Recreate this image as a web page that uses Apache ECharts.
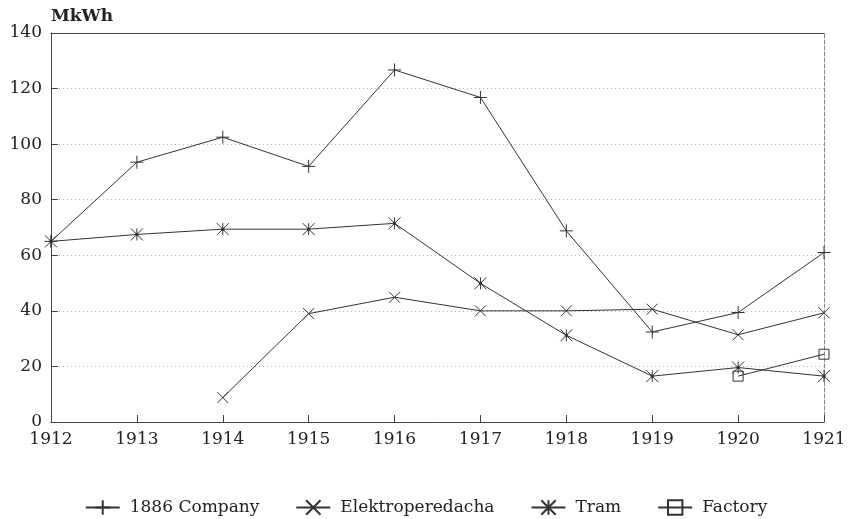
<!DOCTYPE html>
<html>
<head>
<meta charset="utf-8">
<script src="https://cdn.jsdelivr.net/npm/echarts@6/dist/echarts.min.js"></script>
<style>html,body{margin:0;padding:0;background:#fff}#c{width:852px;height:519px}</style>
</head>
<body>
<div id="c"></div>
<script>
const years = ['1912','1913','1914','1915','1916','1917','1918','1919','1920','1921'];
const company1886 = [65, 93.5, 102.5, 92, 126.7, 116.8, 68.8, 32.4, 39.4, 61];
const elektroperedacha = [null, null, 8.8, 39, 44.9, 40, 40, 40.6, 31.4, 39.3];
const tram = [65, 67.5, 69.4, 69.4, 71.5, 49.9, 31.2, 16.5, 19.6, 16.5];
const factory = [null, null, null, null, null, null, null, null, 16.5, 24.4];
const seriesNames = ['1886 Company', 'Elektroperedacha', 'Tram', 'Factory'];
const yTicks = [0, 20, 40, 60, 80, 100, 120, 140];

const FONT = 'DejaVu Serif';
const INK = '#333';

const SYM_PLUS = 'path://M0,6L12,6M6,0L6,12';
const SYM_X = 'path://M0,0L12,12M12,0L0,12';
const SYM_AST = 'path://M0,0L12,12M12,0L0,12M6,0L6,12M5,5L7,5L7,7L5,7Z';
const SYM_SQ = 'path://M0,0L10,0L10,10L0,10Z';

function mk(name, data, symbol, size, fill) {
  return {
    name: name,
    type: 'line',
    data: data,
    symbol: symbol,
    symbolSize: size,
    showAllSymbol: true,
    connectNulls: false,
    lineStyle: { color: INK, width: 1 },
    itemStyle: { color: fill, borderColor: INK, borderWidth: 1 },
    emphasis: { disabled: true },
    z: 3
  };
}

const chart = echarts.init(document.getElementById('c'));
chart.setOption({
  animation: false,
  backgroundColor: '#fff',
  grid: { left: 51, right: 28, top: 33, bottom: 97, containLabel: false },
  legend: {
    data: seriesNames,
    left: 'center',
    top: 494,
    itemWidth: 34,
    itemHeight: 18,
    itemGap: 36,
    textStyle: { fontFamily: FONT, fontSize: 17, color: '#222', padding: [0, 0, 0, 5] }
  },
  xAxis: [{
    type: 'category',
    data: years,
    boundaryGap: false,
    axisLine: { lineStyle: { color: '#444', width: 1 } },
    axisTick: { inside: true, length: 7, lineStyle: { color: '#444' } },
    axisLabel: { fontFamily: FONT, fontSize: 17, color: '#222', margin: 9 },
    splitLine: { show: false }
  }, {
    type: 'category',
    data: years,
    position: 'top',
    boundaryGap: false,
    axisLine: { show: true, onZero: false, lineStyle: { color: '#444', width: 1.2 } },
    axisTick: { show: false },
    axisLabel: { show: false }
  }],
  yAxis: [{
    type: 'value',
    min: 0,
    max: 140,
    interval: 20,
    name: 'MkWh',
    nameLocation: 'end',
    nameGap: 8,
    nameTextStyle: { fontFamily: FONT, fontSize: 17, fontWeight: 'bold', color: '#222', align: 'left' },
    axisLine: { show: true, lineStyle: { color: '#444', width: 1 } },
    axisTick: { show: true, inside: true, length: 7, lineStyle: { color: '#444' } },
    axisLabel: { fontFamily: FONT, fontSize: 17, color: '#222', margin: 9,
      formatter: v => yTicks.includes(v) ? String(v) : '' },
    splitLine: { show: true, lineStyle: { color: '#b8b8b8', type: [1, 3], width: 1 } }
  }, {
    type: 'value',
    min: 0,
    max: 140,
    interval: 20,
    position: 'right',
    axisLine: { show: true, onZero: false, lineStyle: { color: '#888', width: 1, type: [4, 2] } },
    axisTick: { show: false },
    axisLabel: { show: false },
    splitLine: { show: false }
  }],
  series: [
    mk(seriesNames[0], company1886, SYM_PLUS, 13, INK),
    mk(seriesNames[1], elektroperedacha, SYM_X, 11, INK),
    mk(seriesNames[2], tram, SYM_AST, 12, INK),
    mk(seriesNames[3], factory, SYM_SQ, 10, 'rgba(255,255,255,0)')
  ]
});
</script>
</body>
</html>
